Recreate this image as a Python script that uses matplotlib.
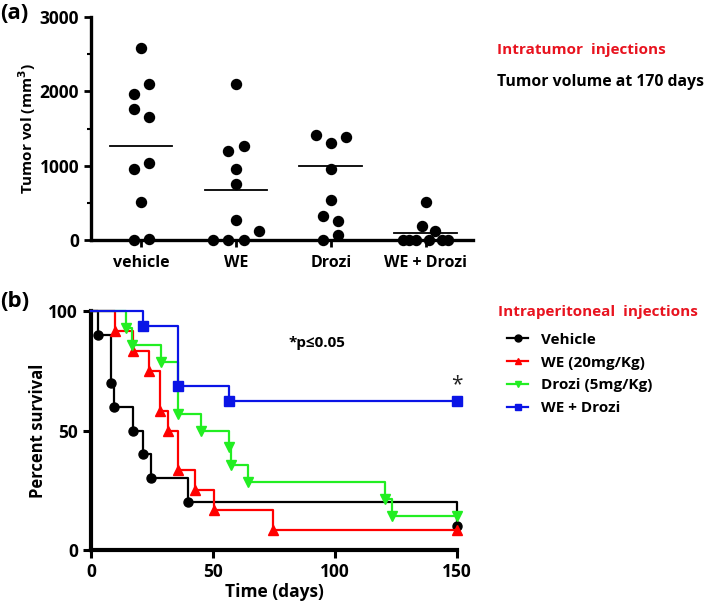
import numpy as np
import matplotlib
matplotlib.use('Agg')
import matplotlib.pyplot as plt
from matplotlib.lines import Line2D

plt.rcParams['font.family'] = ['Open Sans', 'DejaVu Sans']
plt.rcParams['font.weight'] = 'bold'
plt.rcParams['axes.labelweight'] = 'bold'

# ---- panel (a): tumor volume at 170 days ----
groups = ['vehicle', 'WE', 'Drozi', 'WE + Drozi']
vol_vehicle = [2580, 1960, 2095, 1763, 1651, 956, 1032, 507, 0, 15]
vol_we = [2095, 1202, 1270, 956, 750, 275, 0, 0, 0, 125]
vol_drozi = [1413, 1310, 1382, 956, 538, 327, 256, 0, 67]
vol_combo = [516, 0, 0, 0, 193, 0, 126, 0, 0]
mean_lines = [1265, 670, 1000, 90]

# ---- panel (b): survival ----
t_vehicle = [0, 3, 8.3, 9.3, 17.3, 21.5, 24.6, 39.6, 150]
s_vehicle = [100, 90, 70, 60, 50, 40, 30, 20, 10]
t_we = [0, 9.8, 17.1, 23.8, 28.3, 31.4, 35.5, 42.6, 50.5, 74.7, 150]
s_we = [100, 91.7, 83.3, 75, 58.3, 50, 33.3, 25, 16.7, 8.3, 8.3]
t_drozi = [0, 14.3, 17, 28.7, 35.8, 45, 56.6, 57.2, 64.5, 120.5, 123.2, 150]
s_drozi = [100, 92.9, 85.7, 78.6, 57.1, 50, 42.9, 35.7, 28.6, 21.4, 14.3, 14.3]
t_combo = [0, 21.4, 35.8, 56.6, 150]
s_combo = [100, 93.75, 68.75, 62.5, 62.5]


def swarm(values, thresh=140, step=0.16, half_max=0.24):
    # spread points with close values sideways, like a scatter dot plot
    values = np.asarray(values, dtype=float)
    order = np.argsort(values, kind='stable')
    clusters = []
    for i in order:
        if clusters and values[i] - values[clusters[-1][-1]] < thresh:
            clusters[-1].append(i)
        else:
            clusters.append([i])
    offs = np.zeros(len(values))
    for c in clusters:
        n = len(c)
        if n == 1:
            continue
        sp = min(step, 2 * half_max / (n - 1))
        for k, i in enumerate(sorted(c)):
            offs[i] = (k - (n - 1) / 2) * sp
    return offs


fig = plt.figure(figsize=(7.08, 6.05), dpi=100)

ax1 = fig.add_axes([0.1285, 0.603, 0.5395, 0.369])
for i, vals in enumerate([vol_vehicle, vol_we, vol_drozi, vol_combo]):
    xs = i + swarm(vals)
    ax1.plot(xs, vals, 'o', color='black', ms=7.2, clip_on=False, zorder=3)
    ax1.plot([i - 0.33, i + 0.33], [mean_lines[i]] * 2, color='black', lw=1.3, zorder=2)

ax1.set_xlim(-0.53, 3.5)
ax1.set_ylim(0, 3000)
ax1.set_xticks(range(4))
ax1.set_xticklabels(groups)
ax1.set_yticks([0, 1000, 2000, 3000])
ax1.set_yticks([500, 1500, 2500], minor=True)
ax1.spines['top'].set_visible(False)
ax1.spines['right'].set_visible(False)
for s in ['left', 'bottom']:
    ax1.spines[s].set_linewidth(2.4)
ax1.tick_params(axis='both', which='major', width=2, length=5)
ax1.tick_params(axis='x', labelsize=11.5, pad=6)
ax1.tick_params(axis='y', labelsize=12.5)
ax1.tick_params(axis='y', which='minor', width=1.5, length=3)
ax1.set_ylabel('Tumor vol (mm$^\\mathbf{3}$)', fontsize=11, labelpad=1)

fig.text(0.0, 0.977, '(a)', fontsize=16, va='center')
fig.text(0.702, 0.917, 'Intratumor  injections', color='#e8131f', fontsize=11, va='center')
fig.text(0.702, 0.864, 'Tumor volume at 170 days', color='black', fontsize=11.3, va='center')

# survival panel
ax2 = fig.add_axes([0.1285, 0.0909, 0.517, 0.395])
series = [
    (t_vehicle, s_vehicle, 'black', 'o', 'Vehicle', 6.5),
    (t_we, s_we, '#ff0000', '^', 'WE (20mg/Kg)', 7),
    (t_drozi, s_drozi, '#22ee22', 'v', 'Drozi (5mg/Kg)', 7),
    (t_combo, s_combo, '#0a14e6', 's', 'WE + Drozi', 7),
]
handles = []
for z, (t, s, c, m, lab, ms) in enumerate(series):
    ax2.step(t, s, where='post', color=c, lw=1.6, zorder=2 + z, clip_on=False)
    ax2.plot(t[1:], s[1:], m, color=c, ms=ms, zorder=2 + z, clip_on=False)
    handles.append(Line2D([0], [0], color=c, marker=m, lw=1.6, ms=5, label=lab))

ax2.set_xlim(0, 150)
ax2.set_ylim(0, 100)
ax2.set_xticks([0, 50, 100, 150])
ax2.set_yticks([0, 50, 100])
ax2.spines['top'].set_visible(False)
ax2.spines['right'].set_visible(False)
for s in ['left', 'bottom']:
    ax2.spines[s].set_linewidth(3)
ax2.tick_params(axis='both', width=2.2, length=6, labelsize=12.5)
ax2.set_xlabel('Time (days)', fontsize=12.5, labelpad=1)
ax2.set_ylabel('Percent survival', fontsize=12, labelpad=1)

ax2.text(0.54, 0.866, '*p≤0.05', transform=ax2.transAxes, fontsize=11, va='center')
ax2.annotate('*', (150, s_combo[-1]), xytext=(0, 4), textcoords='offset points',
             ha='center', va='bottom', fontsize=15, fontweight='normal', color='#222222')

fig.text(0.0, 0.502, '(b)', fontsize=16, va='center')
fig.text(0.703, 0.484, 'Intraperitoneal  injections', color='#e8131f', fontsize=11, va='center')
fig.legend(handles=handles, loc='upper left', bbox_to_anchor=(0.716, 0.45),
           frameon=False, fontsize=11, handlelength=1.4, handletextpad=0.8,
           labelspacing=0.58, borderaxespad=0, borderpad=0)

fig.savefig('out.png', dpi=100)
